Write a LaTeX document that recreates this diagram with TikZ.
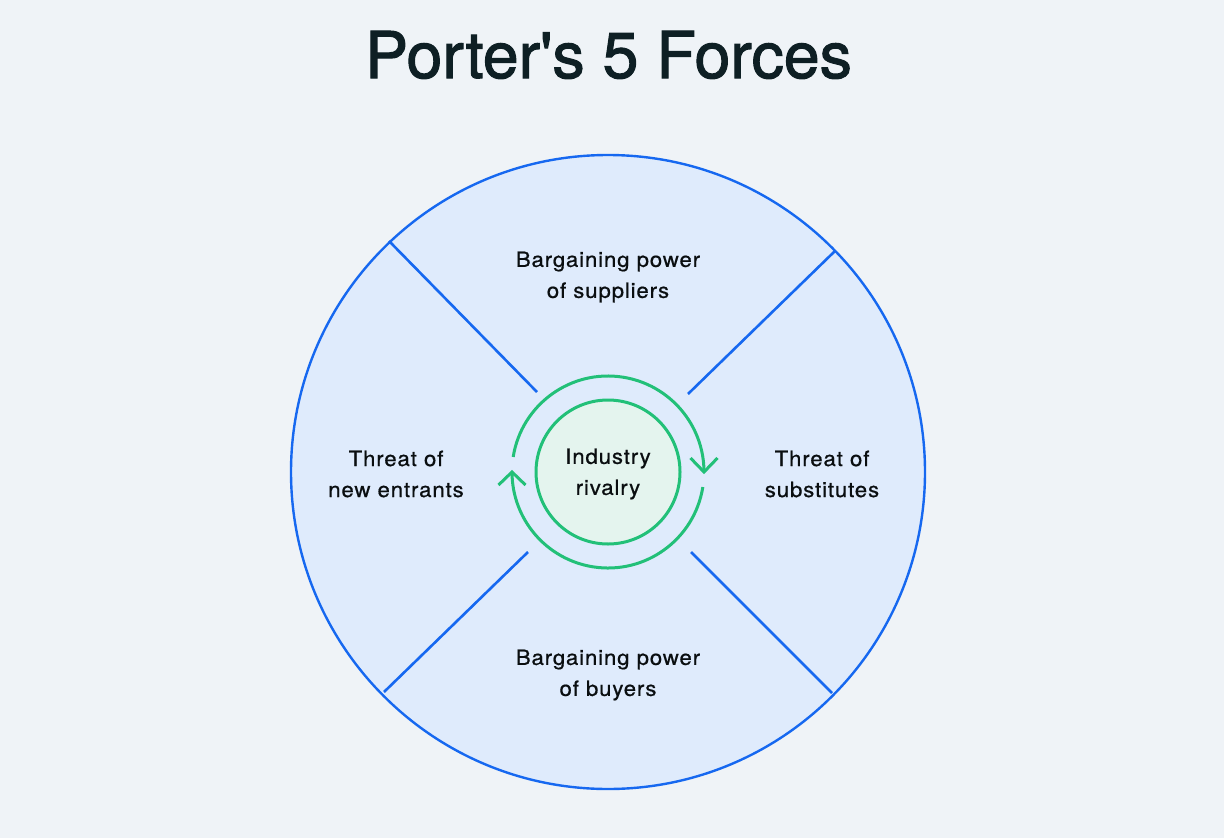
\documentclass[tikz,border=0pt]{standalone}
\usepackage{fontspec}
\usetikzlibrary{calc}
\setmainfont{TeX Gyre Heros}
\newfontfamily\titlefont[FakeBold=1.6]{TeX Gyre Heros}
\newfontfamily\labfont[LetterSpace=4,FakeStretch=1.06,FakeBold=0.7]{TeX Gyre Heros}
\definecolor{bg}{RGB}{239,243,247}
\definecolor{wheel}{RGB}{223,235,252}
\definecolor{bline}{RGB}{22,104,240}
\definecolor{gline}{RGB}{34,192,120}
\definecolor{gfill}{RGB}{228,244,238}
\definecolor{ink}{RGB}{14,31,36}
\definecolor{labink}{RGB}{10,14,16}
\begin{document}
\begin{tikzpicture}[x=1pt,y=-1pt,
  divider/.style={draw=bline,line width=2.6pt},
  ring/.style={draw=gline,line width=3pt},
  label/.style={text=labink,align=center,font=\labfont\fontsize{21}{31}\selectfont,inner sep=0pt}]
\useasboundingbox[fill=bg] (0,0) rectangle (1224,838);
\node[text=ink,anchor=base,font=\titlefont\fontsize{64.5}{70}\selectfont,inner sep=0pt] (title) at (608.5,78) {Porter{\char"0027}s 5 Forces};
\coordinate (c) at (608,472);
\node[circle,draw=bline,line width=2.4pt,fill=wheel,minimum size=634pt,inner sep=0pt] (wheel) at (c) {};
% dividers
\coordinate (ul1) at (389,241); \coordinate (ul2) at (537,392);
\coordinate (ur1) at (835,251); \coordinate (ur2) at (688,394);
\coordinate (ll1) at (384,692); \coordinate (ll2) at (528,552);
\coordinate (lr1) at (832,693); \coordinate (lr2) at (691,552);
\draw[divider] (ul1) -- (ul2);
\draw[divider] (ur1) -- (ur2);
\draw[divider] (ll1) -- (ll2);
\draw[divider] (lr1) -- (lr2);
% centre
\node[circle,draw=gline,line width=3pt,fill=gfill,minimum size=144pt,inner sep=0pt] (rivalry) at (c) {};
\node[label] (rivtext) at (608,474) {Industry\\rivalry};
% cycle arrows
\draw[ring] (c) ++(189:96) arc[start angle=189,end angle=360,radius=96] coordinate (tip1);
\draw[ring] (c) ++(9:96) arc[start angle=9,end angle=180,radius=96] coordinate (tip2);
\draw[ring,line join=miter] ($(tip1)+(-13.5,-14)$) -- (tip1) -- ($(tip1)+(13.5,-14)$);
\draw[ring,line join=miter] ($(tip2)+(-13.5,13)$) -- (tip2) -- ($(tip2)+(13.5,13)$);
% labels
\node[label] (sup) at (608,277) {Bargaining power\\of suppliers};
\node[label] (ent) at (396,474) {Threat of\\new entrants};
\node[label] (sub) at (822,474) {Threat of\\substitutes};
\node[label] (buy) at (608,675) {Bargaining power\\of buyers};
\end{tikzpicture}
\end{document}
